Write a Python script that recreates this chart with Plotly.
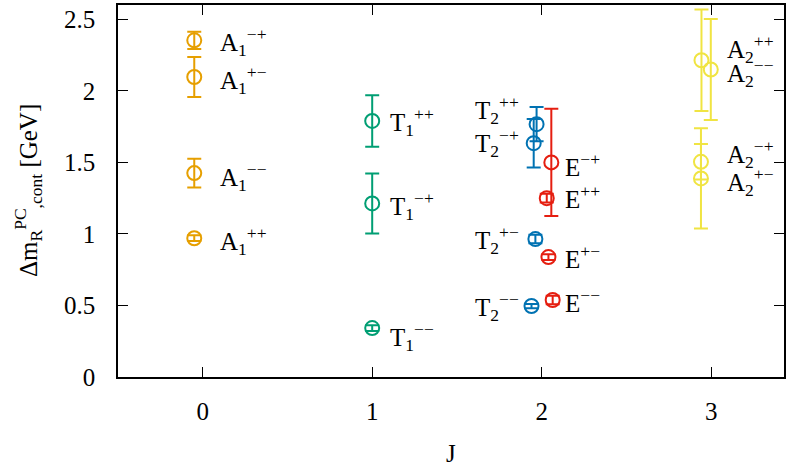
import plotly.graph_objects as go

# ---- data ----
A1_x = [-0.05, -0.05, -0.05, -0.05]
A1_y = [2.353, 2.097, 1.425, 0.970]
A1_err = [0.06, 0.14, 0.10, 0.02]
A1_lab = ["A<sub>1</sub><sup>−+</sup>", "A<sub>1</sub><sup>+−</sup>",
          "A<sub>1</sub><sup>−−</sup>", "A<sub>1</sub><sup>++</sup>"]
A1_lx = [0.09, 0.09, 0.09, 0.09]
A1_ly = [2.341, 2.076, 1.399, 0.950]

T1_x = [1.0, 1.0, 1.0]
T1_y = [1.790, 1.213, 0.342]
T1_err = [0.18, 0.21, 0.02]
T1_lab = ["T<sub>1</sub><sup>++</sup>", "T<sub>1</sub><sup>−+</sup>",
          "T<sub>1</sub><sup>−−</sup>"]
T1_lx = [1.094, 1.094, 1.094]
T1_ly = [1.783, 1.194, 0.279]

T2_x = [1.97, 1.953, 1.963, 1.94]
T2_y = [1.767, 1.634, 0.964, 0.496]
T2_err = [0.12, 0.17, 0.03, 0.015]
T2_lab = ["T<sub>2</sub><sup>++</sup>", "T<sub>2</sub><sup>−+</sup>",
          "T<sub>2</sub><sup>+−</sup>", "T<sub>2</sub><sup>−−</sup>"]
T2_lx = [1.594, 1.594, 1.594, 1.594]
T2_ly = [1.865, 1.638, 0.957, 0.489]

E_x = [2.057, 2.03, 2.04, 2.065]
E_y = [1.500, 1.250, 0.838, 0.538]
E_err = [0.375, 0.03, 0.02, 0.03]
E_lab = ["E<sup>−+</sup>", "E<sup>++</sup>", "E<sup>+−</sup>", "E<sup>−−</sup>"]
E_lx = [2.125, 2.125, 2.125, 2.125]
E_ly = [1.480, 1.257, 0.840, 0.531]

A2_x = [2.943, 2.998, 2.94, 2.94]
A2_y = [2.214, 2.149, 1.504, 1.388]
A2_err = [0.354, 0.353, 0.124, 0.35]
A2_lab = ["A<sub>2</sub><sup>++</sup>", "A<sub>2</sub><sup>−−</sup>",
          "A<sub>2</sub><sup>−+</sup>", "A<sub>2</sub><sup>+−</sup>"]
A2_lx = [3.08, 3.08, 3.08, 3.08]
A2_ly = [2.290, 2.123, 1.557, 1.362]

x_ticks = [0, 1, 2, 3]
y_ticks = [0, 0.5, 1, 1.5, 2, 2.5]

groups = [
    (A1_x, A1_y, A1_err, A1_lab, A1_lx, A1_ly, "#E69F00"),
    (T1_x, T1_y, T1_err, T1_lab, T1_lx, T1_ly, "#009E73"),
    (T2_x, T2_y, T2_err, T2_lab, T2_lx, T2_ly, "#0072B2"),
    (E_x, E_y, E_err, E_lab, E_lx, E_ly, "#E51E10"),
    (A2_x, A2_y, A2_err, A2_lab, A2_lx, A2_ly, "#F0E442"),
]

FONT = "Liberation Serif"
FS = 25

fig = go.Figure()
annotations = []
for xs, ys, es, labs, lxs, lys, col in groups:
    fig.add_trace(go.Scatter(
        x=xs, y=ys, mode="markers",
        marker=dict(symbol="circle-open", size=14, color=col, line=dict(width=2, color=col)),
        error_y=dict(type="data", array=es, visible=True, color=col, thickness=2, width=7),
        showlegend=False, cliponaxis=False,
    ))
    for t, lx, ly in zip(labs, lxs, lys):
        annotations.append(dict(x=lx, y=ly, xref="x", yref="y", text=t, showarrow=False,
                                xanchor="left", yanchor="middle",
                                font=dict(family=FONT, size=FS, color="black")))

annotations.append(dict(x=0, y=0.5, xref="paper", yref="paper", xshift=-90,
                        text="Δm<sub>R</sub><sup>PC</sup><sub>,cont</sub> [GeV]",
                        textangle=-90, showarrow=False, xanchor="center", yanchor="middle",
                        font=dict(family=FONT, size=FS, color="black")))
annotations.append(dict(x=0.5, y=0, xref="paper", yref="paper", yshift=-76,
                        text="J", showarrow=False, xanchor="center", yanchor="middle",
                        font=dict(family=FONT, size=FS, color="black")))

fig.update_layout(
    width=789, height=469,
    margin=dict(l=118, r=3, t=5, b=92),
    plot_bgcolor="white", paper_bgcolor="white",
    font=dict(family=FONT, size=FS, color="black"),
    annotations=annotations,
    xaxis=dict(range=[-0.5, 3.43], tickvals=x_ticks, ticks="inside", ticklen=10, tickwidth=1.2,
               tickcolor="black", showline=True, linecolor="black", linewidth=1.5,
               mirror="ticks", showgrid=False, zeroline=False, ticklabelstandoff=11),
    yaxis=dict(range=[0, 2.6], tickvals=y_ticks, ticks="inside", ticklen=10, tickwidth=1.2,
               tickcolor="black", showline=True, linecolor="black", linewidth=1.5,
               mirror="ticks", showgrid=False, zeroline=False, ticklabelstandoff=16),
)

fig.write_html("out.html")
